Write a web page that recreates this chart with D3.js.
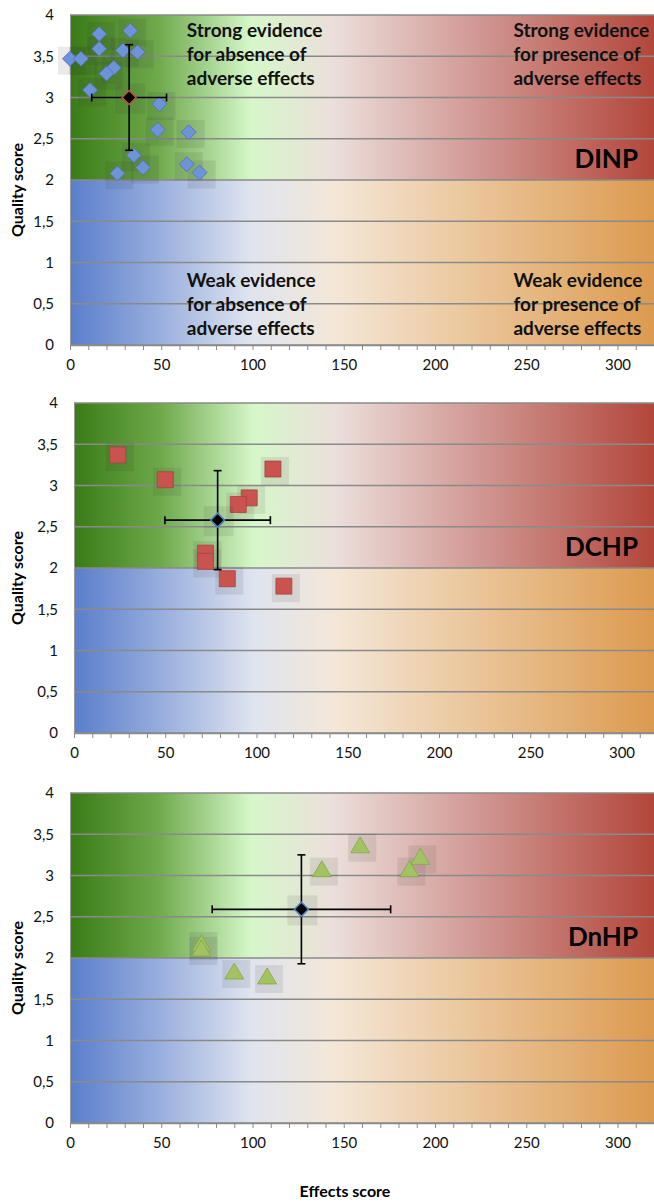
<!DOCTYPE html>
<html>
<head>
<meta charset="utf-8">
<script src="https://cdn.jsdelivr.net/npm/d3@7"></script>
<style>
body{margin:0;background:#fff;}
svg{display:block;font-family:Lato,"Open Sans",sans-serif;}
</style>
</head>
<body>
<svg id="svg" width="654" height="1202"></svg>
<script>
// tick values
var yTicks = [0, 0.5, 1, 1.5, 2, 2.5, 3, 3.5, 4];
var xTicks = [0, 50, 100, 150, 200, 250, 300];
var xMinor = d3.range(0, 321, 10);

// DINP
var dinpEffects = [0, 6, 16, 33, 16, 29, 37, 24, 20, 11, 49, 48, 65, 35, 40, 26, 64, 71];
var dinpQuality = [3.47, 3.47, 3.77, 3.81, 3.59, 3.57, 3.55, 3.36, 3.29, 3.09, 2.92, 2.61, 2.58, 2.30, 2.15, 2.08, 2.19, 2.09];
var dinpMean = [32.4, 3.0];
var dinpErr = [20.5, 0.64];

// DCHP
var dchpEffects = [24, 50, 109, 96, 90, 72, 72, 84, 115];
var dchpQuality = [3.37, 3.07, 3.20, 2.85, 2.77, 2.18, 2.08, 1.87, 1.78];
var dchpMean = [78.7, 2.58];
var dchpErr = [28.9, 0.6];

// DnHP
var dnhpEffects = [159, 138, 192, 186, 72, 72, 90, 108];
var dnhpQuality = [3.36, 3.07, 3.22, 3.07, 2.17, 2.11, 1.83, 1.77];
var dnhpMean = [126.8, 2.59];
var dnhpErr = [48.9, 0.66];

var svg = d3.select("#svg");

var panels = [
    {name: "DINP", effects: dinpEffects, quality: dinpQuality, mean: dinpMean, err: dinpErr,
     shape: "diamond", fill: "#6f93d9", stroke: "#4e70b4", meanStroke: "#c0504d", top: 15, left: 70},
    {name: "DCHP", effects: dchpEffects, quality: dchpQuality, mean: dchpMean, err: dchpErr,
     shape: "square", fill: "#c9534f", stroke: "#a8423e", meanStroke: "#4f81bd", top: 403, left: 74},
    {name: "DnHP", effects: dnhpEffects, quality: dnhpQuality, mean: dnhpMean, err: dnhpErr,
     shape: "triangle", fill: "#a2c263", stroke: "#86a447", meanStroke: "#4f81bd", top: 793, left: 70}
];

var plotH = 330, pxUnit = 1.825;

// background gradients
var defs = svg.append("defs");
var topStops = [[0, "#3a7b16"], [0.15, "#6ea94b"], [0.31, "#d6f7ca"], [0.45, "#ecdfdb"], [0.65, "#d6a5a1"], [1, "#b2463b"]];
var botStops = [[0, "#5a7ecb"], [0.14, "#93aadc"], [0.31, "#dfe4ef"], [0.45, "#f4e7d8"], [0.68, "#ebc79d"], [1, "#dc9a4f"]];
[["gTop", topStops], ["gBot", botStops]].forEach(function (g) {
    var lg = defs.append("linearGradient").attr("id", g[0]).attr("x1", 0).attr("x2", 1).attr("y1", 0).attr("y2", 0);
    lg.selectAll("stop").data(g[1]).enter().append("stop")
        .attr("offset", function (d) { return d[0]; })
        .attr("stop-color", function (d) { return d[1]; });
});

function shapePath(shape) {
    if (shape === "diamond") return "M0,-7.5L7.5,0L0,7.5L-7.5,0Z";
    if (shape === "square") return "M-8,-8H8V8H-8Z";
    return "M0,-9L9.5,7L-9.5,7Z";
}

panels.forEach(function (p, pi) {
    var x = d3.scaleLinear().domain([0, 320]).range([p.left, p.left + 320 * pxUnit]);
    var y = d3.scaleLinear().domain([0, 4]).range([p.top + plotH, p.top]);
    var g = svg.append("g");
    var w = 654 - p.left;

    g.append("rect").attr("x", p.left).attr("y", y(4)).attr("width", w).attr("height", y(2) - y(4)).attr("fill", "url(#gTop)");
    g.append("rect").attr("x", p.left).attr("y", y(2)).attr("width", w).attr("height", y(0) - y(2)).attr("fill", "url(#gBot)");

    // grid lines
    g.selectAll(".grid").data(yTicks).enter().append("line")
        .attr("x1", p.left).attr("x2", 654)
        .attr("y1", function (d) { return y(d); }).attr("y2", function (d) { return y(d); })
        .attr("stroke", "#8a8a8a").attr("stroke-width", 1.5);

    // x axis minor ticks
    var xMinorAxis = g.append("g").attr("transform", "translate(0," + y(0) + ")")
        .call(d3.axisBottom(x).tickValues(xMinor).tickSize(5).tickSizeOuter(0).tickFormat(""));
    xMinorAxis.selectAll("line").attr("stroke", "#8a8a8a");
    xMinorAxis.select(".domain").attr("stroke", "#8a8a8a").attr("stroke-width", 1.5);

    var xAxis = g.append("g").attr("transform", "translate(0," + y(0) + ")")
        .call(d3.axisBottom(x).tickValues(xTicks).tickSize(0).tickPadding(14));
    xAxis.select(".domain").remove();
    xAxis.selectAll("text").attr("font-size", 15).attr("font-family", "Lato").attr("fill", "#111");

    // y axis
    var yAxis = g.append("g").attr("transform", "translate(" + p.left + ",0)")
        .call(d3.axisLeft(y).tickValues(yTicks).tickSize(0).tickPadding(16)
            .tickFormat(function (d) { return String(d).replace(".", ","); }));
    yAxis.select(".domain").attr("stroke", "#9a9a9a");
    yAxis.selectAll("text").attr("font-size", 15).attr("font-family", "Lato").attr("fill", "#111");

    g.append("text").attr("transform", "translate(23," + (p.top + 175) + ") rotate(-90)")
        .attr("text-anchor", "middle").attr("font-weight", "bold").attr("font-size", 16)
        .text("Quality score");

    // glow boxes
    var pts = p.effects.map(function (e, i) { return [e, p.quality[i]]; });
    g.selectAll(".glow").data(pts).enter().append("rect")
        .attr("x", function (d) { return x(d[0]) - 12; })
        .attr("y", function (d) { return y(d[1]) - 12; })
        .attr("width", 28).attr("height", 28)
        .attr("fill", "#303030").attr("opacity", 0.1);

    // points
    g.selectAll(".pt").data(pts).enter().append("path")
        .attr("d", shapePath(p.shape))
        .attr("transform", function (d) { return "translate(" + x(d[0]) + "," + y(d[1]) + ")"; })
        .attr("fill", p.fill).attr("stroke", p.stroke).attr("stroke-width", 0.8);

    // mean with error bars
    var mx = x(p.mean[0]), my = y(p.mean[1]);
    var x0 = x(p.mean[0] - p.err[0]), x1 = x(p.mean[0] + p.err[0]);
    var y0 = y(p.mean[1] - p.err[1]), y1 = y(p.mean[1] + p.err[1]);
    g.append("rect").attr("x", mx - 14).attr("y", my - 14).attr("width", 30).attr("height", 30)
        .attr("fill", "#303030").attr("opacity", 0.1);
    var eb = g.append("g").attr("stroke", "#000").attr("stroke-width", 1.6);
    eb.append("line").attr("x1", x0).attr("x2", x1).attr("y1", my).attr("y2", my);
    eb.append("line").attr("x1", x0).attr("x2", x0).attr("y1", my - 4).attr("y2", my + 4);
    eb.append("line").attr("x1", x1).attr("x2", x1).attr("y1", my - 4).attr("y2", my + 4);
    eb.append("line").attr("x1", mx).attr("x2", mx).attr("y1", y0).attr("y2", y1);
    eb.append("line").attr("x1", mx - 4).attr("x2", mx + 4).attr("y1", y0).attr("y2", y0);
    eb.append("line").attr("x1", mx - 4).attr("x2", mx + 4).attr("y1", y1).attr("y2", y1);
    g.append("path").attr("d", "M0,-7L7,0L0,7L-7,0Z")
        .attr("transform", "translate(" + mx + "," + my + ")")
        .attr("fill", "#000").attr("stroke", p.meanStroke).attr("stroke-width", 1.5);

    // compound label
    g.append("text").attr("x", 638).attr("y", y(2.15)).attr("text-anchor", "end")
        .attr("font-weight", "bold").attr("font-size", 26).attr("fill", "#000").text(p.name);

    if (pi === 0) {
        var notes = [
            [64, 22, ["Strong evidence", "for absence of", "adverse effects"]],
            [243, 22, ["Strong evidence", "for presence of", "adverse effects"]],
            [64, 272, ["Weak evidence", "for absence of", "adverse effects"]],
            [243, 272, ["Weak evidence", "for presence of", "adverse effects"]]
        ];
        notes.forEach(function (n) {
            n[2].forEach(function (line, li) {
                g.append("text").attr("x", x(n[0])).attr("y", p.top + n[1] + li * 24)
                    .attr("font-weight", "bold").attr("font-size", 19).attr("fill", "#111").text(line);
            });
        });
    }
});

svg.append("text").attr("x", 345).attr("y", 1197).attr("text-anchor", "middle")
    .attr("font-weight", "bold").attr("font-size", 16).text("Effects score");
</script>
</body>
</html>
